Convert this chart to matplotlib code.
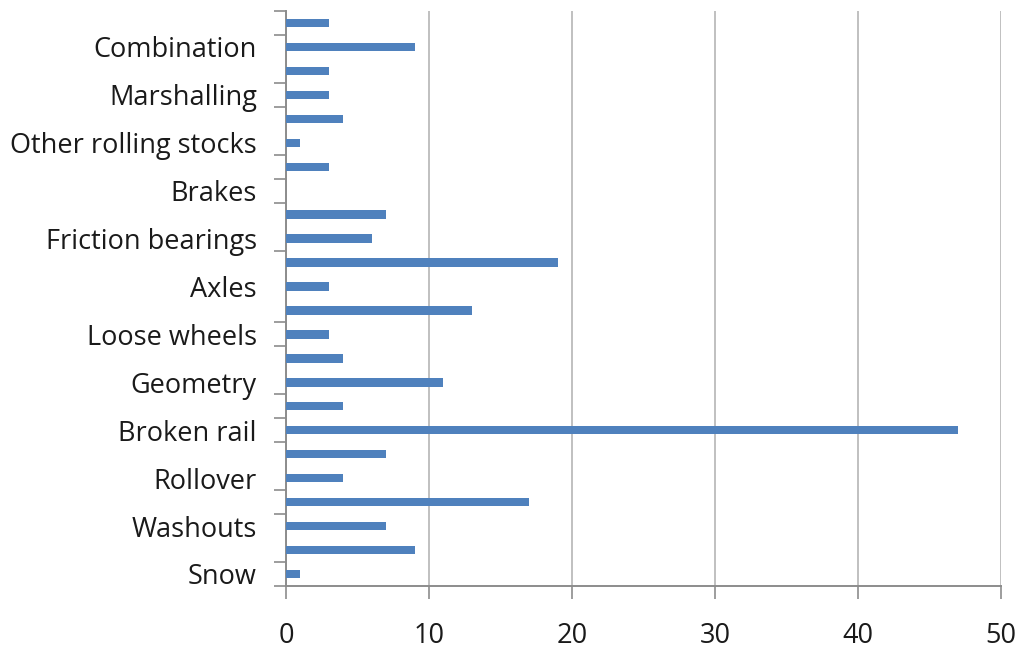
import matplotlib

matplotlib.use("Agg")
import matplotlib.pyplot as plt
import numpy as np

# causes listed bottom to top; only every other category carries a label
labels = [
    "Snow", "", "Washouts", "", "Rollover", "", "Broken rail", "",
    "Geometry", "", "Loose wheels", "", "Axles", "", "Friction bearings", "",
    "Brakes", "", "Other rolling stocks", "", "Marshalling", "", "Combination", "",
]
counts = [
    1, 9, 7, 17, 4, 7, 47, 4,
    11, 4, 3, 13, 3, 19, 6, 7,
    0, 3, 1, 4, 3, 3, 9, 3,
]
x_ticks = [0, 10, 20, 30, 40, 50]

BAR = "#4f81bd"
GRID = "#b5b5b5"
AXIS = "#8c8c8c"
TEXT = "#1a1a1a"

# category boundaries that get a tick mark on the vertical axis
BOUNDARY_TICKS = [0, 1, 3, 4, 6, 7, 8, 10, 11, 14, 16, 17, 18, 20, 21, 23, 24]

plt.rcParams["font.family"] = ["Open Sans", "DejaVu Sans"]

fig = plt.figure(figsize=(10.21, 6.5), dpi=100)
ax = fig.add_axes([0.2801, 0.0985, 0.7003, 0.8846])

y = np.arange(len(counts))
ax.barh(y, counts, height=0.35, color=BAR, zorder=3)

ax.set_xlim(0, 50)
ax.set_ylim(-0.5, len(counts) - 0.5)

ax.set_xticks(x_ticks)
ax.set_xticklabels([str(v) for v in x_ticks], fontsize=19.5, color=TEXT)
ax.tick_params(axis="x", direction="out", length=9, width=1.2, color=AXIS, pad=17)

labelled = [i for i, s in enumerate(labels) if s]
ax.set_yticks(labelled)
ax.set_yticklabels([labels[i] for i in labelled], fontsize=19.5, color=TEXT)
ax.tick_params(axis="y", which="major", length=0, pad=21)
ax.set_yticks([b - 0.5 for b in BOUNDARY_TICKS], minor=True)
ax.tick_params(axis="y", which="minor", direction="out", length=9, width=1.2, color=AXIS)

ax.grid(axis="x", color=GRID, linewidth=1.2, zorder=0)
ax.set_axisbelow(True)

for side in ["top", "right"]:
    ax.spines[side].set_visible(False)
for side in ["left", "bottom"]:
    ax.spines[side].set_color(AXIS)
    ax.spines[side].set_linewidth(1.4)

fig.savefig("out.png", dpi=100)
